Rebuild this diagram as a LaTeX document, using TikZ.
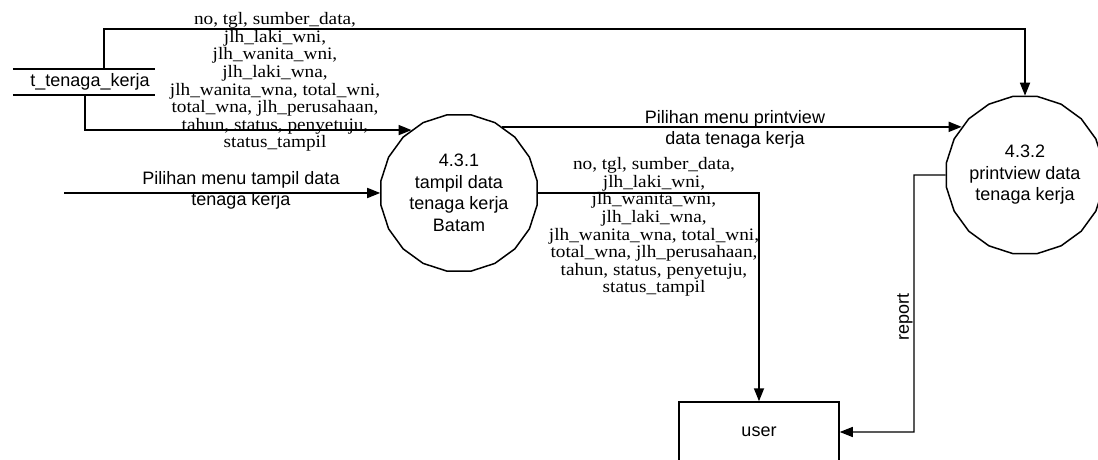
\documentclass[tikz,border=0pt]{standalone}
\usepackage{fontspec}
\setmainfont{Liberation Serif}
\setsansfont{Liberation Sans}
\newfontfamily\lblserif[FakeStretch=1.1]{Liberation Serif}
\usetikzlibrary{arrows.meta,shapes.geometric}
\begin{document}
\begin{tikzpicture}[x=1pt,y=-1pt,
  flow/.style={line width=1.7pt, -{Triangle[length=13pt,width=10pt]}},
  thinflow/.style={line width=1.4pt, -{Triangle[length=13pt,width=10pt]}},
  proc/.style={draw, line width=1.5pt, regular polygon, regular polygon sides=20, minimum size=158pt, inner sep=0pt, align=center, font=\sffamily\fontsize{18}{21.5}\selectfont},
  ent/.style={draw, line width=1.5pt, minimum width=160pt, minimum height=60pt, inner sep=0pt, font=\sffamily\fontsize{18}{21.5}\selectfont},
  storebox/.style={minimum width=142pt, minimum height=26pt, inner sep=0pt},
  sanslbl/.style={align=center, inner sep=0pt, font=\sffamily\fontsize{18}{21}\selectfont},
  serlbl/.style={align=center, inner sep=0pt, font=\lblserif\fontsize{17.5}{17.6}\selectfont},
]
\useasboundingbox (0,0) rectangle (1098,460);

% nodes
\node[storebox] (store) at (84,82) {};
\node[sanslbl] (storelbl) at (90,82) {t\_tenaga\_kerja};
\draw[line width=1.5pt] (store.north west) -- (store.north east);
\draw[line width=1.5pt] (store.south west) -- (store.south east);

\node[proc] (p1) at (459,193) {4.3.1\\tampil data\\tenaga kerja\\Batam};
\node[proc] (p2) at (1025,175) {4.3.2\\printview data\\tenaga kerja};
\node[ent] (user) at (759,432) {user};

% connectors
\draw[flow] (store.north -| 104,0) -- (104,29) -| (p2.north);
\draw[flow] (store.south -| 85,0) |- (p1.127);

\coordinate (in) at (64,193);
\draw[flow] (in) -- (p1.west);

\draw[flow] (p1.57) -- (p1.57 -| p2.143);
\draw[flow] (p1.east) -| (user.north);

\coordinate (rc) at (914,175);
\draw[thinflow] (p2.west) -- (rc) |- (user.east);

% labels
\node[serlbl] (lblA) at (275,82) {no, tgl, sumber\_data,\\jlh\_laki\_wni,\\jlh\_wanita\_wni,\\jlh\_laki\_wna,\\jlh\_wanita\_wna, total\_wni,\\total\_wna, jlh\_perusahaan,\\tahun, status, penyetuju,\\status\_tampil};
\node[serlbl] (lblB) at (654,227) {no, tgl, sumber\_data,\\jlh\_laki\_wni,\\jlh\_wanita\_wni,\\jlh\_laki\_wna,\\jlh\_wanita\_wna, total\_wni,\\total\_wna, jlh\_perusahaan,\\tahun, status, penyetuju,\\status\_tampil};
\node[sanslbl] (lblin) at (241,190) {Pilihan menu tampil data\\tenaga kerja};
\node[sanslbl] (lblpv) at (735,129) {Pilihan menu printview\\data tenaga kerja};
\node[sanslbl, rotate=90] (lblrep) at (905,317) {report};
\end{tikzpicture}
\end{document}
